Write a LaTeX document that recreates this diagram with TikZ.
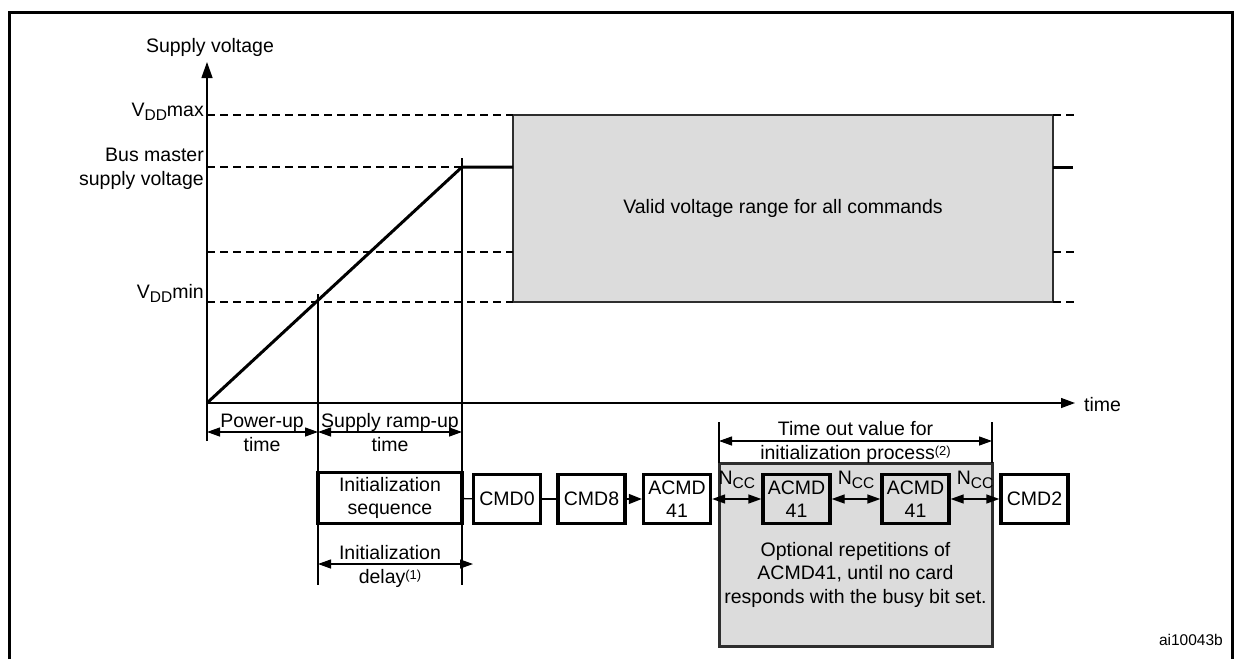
\documentclass[tikz,border=0pt]{standalone}
\usepackage{fontspec}
\setmainfont{Liberation Sans}
\usetikzlibrary{arrows.meta,positioning}
\definecolor{validgrey}{HTML}{DCDCDC}
\definecolor{edgegrey}{HTML}{2E2E2E}
\newcommand{\lowtxt}[1]{\raisebox{-4pt}{\fontsize{15.5}{16}\selectfont #1}}
\newcommand{\uptxt}[1]{\raisebox{4pt}{\fontsize{13}{13}\selectfont #1}}
\tikzset{
  thinline/.style={line width=1.3pt},
  levelline/.style={line width=1.2pt,dash pattern=on 8pt off 5pt},
  cmdbox/.style={draw,line width=3.3pt,fill=white,minimum width=67pt,minimum height=49pt,inner sep=0pt,align=center},
  dimarrow/.style={line width=1.3pt,{Triangle[length=13pt,width=9pt]}-{Triangle[length=13pt,width=9pt]}},
  lbl/.style={inner sep=0pt,align=center},
}

\begin{document}
\begin{tikzpicture}[x=1pt,y=-1pt,font=\fontsize{19.5}{23.5}\selectfont]
  \useasboundingbox (0,0) rectangle (1234,659);
  % frame
  \draw[line width=3pt] (9,659) -- (9,12) -- (1232,12) -- (1232,659);

  % axes
  \coordinate (O) at (207,403);
  \coordinate (ytop) at (207,62);
  \coordinate (ybot) at (207,441);
  \coordinate (tend) at (1075,403);
  \draw[thinline,-{Triangle[length=16pt,width=11pt]}] (ybot) -- (ytop);
  \draw[thinline,-{Triangle[length=14pt,width=10pt]}] (O) -- (tend);
  \node[lbl,anchor=base] (vlabel) at (210,52) {Supply voltage};
  \node[lbl,anchor=base west] (tlabel) at (1084,411) {time};

  % valid range
  \node[fill=validgrey,draw=edgegrey,line width=1.3pt,minimum width=540pt,minimum height=187pt,inner sep=0pt] (valid) at (783,208.5) {Valid voltage range for all commands};
  \foreach \y in {115,252,302}{
    \draw[levelline] (207,\y) -- (513,\y);
    \draw[levelline] (1053,\y) -- (1075,\y);}
  \draw[levelline] (207,167) -- (462,167);
  \draw[line width=3pt] (O) -- (462,167) -- (513,167);
  \draw[line width=3pt] (1053,167) -- (1073,167);

  % level labels
  \node[lbl,anchor=base east] (vmax) at (204,116) {V\lowtxt{DD}max};
  \node[lbl,anchor=base east,align=right] (vbus) at (204,185) {Bus master\\supply voltage};
  \node[lbl,anchor=base east] (vmin) at (204,298) {V\lowtxt{DD}min};

  % time marks
  \coordinate (tmin) at (318,294);
  \coordinate (tbus) at (462,158);
  \draw[thinline] (tmin) -- (318,585);
  \draw[thinline] (tbus) -- (462,585);
  \draw[dimarrow] (207,432) -- (318,432);
  \draw[dimarrow] (318,432) -- (462,432);
  \node[lbl,anchor=base] (putxt) at (262,451) {Power-up\\time};
  \node[lbl,anchor=base] (ramptxt) at (390,451) {Supply ramp-up\\time};

  % command sequence
  \node[cmdbox,minimum width=144pt,minimum height=51pt] (initseq) at (390,498) {Initialization\\sequence};
  \node[cmdbox] (cmd0) at (507,499) {CMD0};
  \node[cmdbox] (cmd8) at (591.5,499) {CMD8};
  \node[cmdbox] (acmd) at (677,499) {ACMD\\41};

  % repetitions
  \node[fill=validgrey,draw=edgegrey,line width=3pt,minimum width=273pt,minimum height=183pt,inner sep=0pt] (rep) at (855.5,554.5) {};
  \node[cmdbox,fill=validgrey] (acmdb) at (796.5,499) {ACMD\\41};
  \node[cmdbox,fill=validgrey] (acmdc) at (915.5,499) {ACMD\\41};
  \node[cmdbox] (cmd2) at (1034.5,499) {CMD2};
  \node[lbl,anchor=base] (reptxt) at (855.5,603) {Optional repetitions of\\ACMD41, until no card\\responds with the busy bit set.};

  \draw[thinline] (initseq) -- (cmd0);
  \draw[thinline] (cmd0) -- (cmd8);
  \draw[thinline,-{Triangle[length=13pt,width=10pt]}] (cmd8) -- (acmd);
  \draw[dimarrow] (acmd) -- (acmdb) node[lbl,midway,anchor=base,yshift=15pt] (ncc1) {N\lowtxt{CC}};
  \draw[dimarrow] (acmdb) -- (acmdc) node[lbl,midway,anchor=base,yshift=15pt] (ncc2) {N\lowtxt{CC}};
  \draw[dimarrow] (acmdc) -- (cmd2) node[lbl,midway,anchor=base,yshift=15pt] (ncc3) {N\lowtxt{CC}};

  % time out
  \draw[thinline] (719,422) -- (719,463);
  \draw[thinline] (992,422) -- (992,463);
  \draw[dimarrow] (719,441) -- (992,441);
  \node[lbl,anchor=base] (totxt) at (855.5,459) {Time out value for\\initialization process\uptxt{(2)}};

  % init delay
  \draw[dimarrow] (318,564) -- (473,564);
  \node[lbl,anchor=base] (idtxt) at (390,583) {Initialization\\delay\uptxt{(1)}};

  \node[lbl,anchor=base east,font=\fontsize{15.5}{16}\selectfont] (figid) at (1223,645) {ai10043b};
\end{tikzpicture}
\end{document}
